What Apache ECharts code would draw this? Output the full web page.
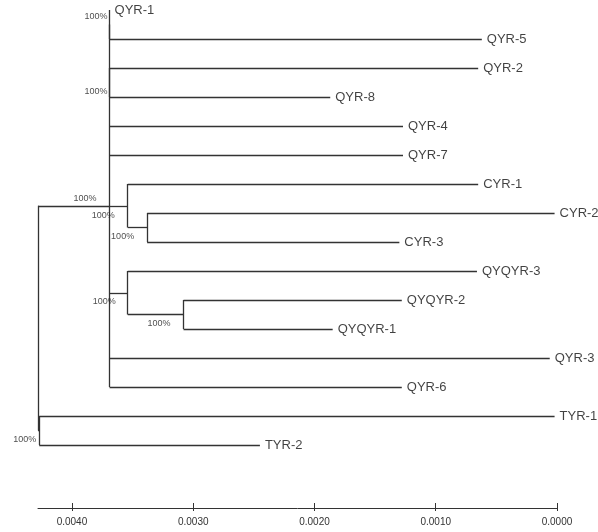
<!DOCTYPE html>
<html>
<head>
    <meta charset="utf-8">
    <title>Tree</title>
    <style>
        html, body { margin: 0; padding: 0; background: #fff; }
        #tree { width: 598px; height: 532px; }
    </style>
</head>
<body>
<div id="tree"></div>
<script src="https://cdn.jsdelivr.net/npm/echarts@6/dist/echarts.min.js"></script>
<script type="text/javascript">
    // leaves, top to bottom; height = distance read on the scale (0 at right)
    var leafNames = ['QYR-1', 'QYR-5', 'QYR-2', 'QYR-8', 'QYR-4', 'QYR-7', 'CYR-1', 'CYR-2', 'CYR-3',
        'QYQYR-3', 'QYQYR-2', 'QYQYR-1', 'QYR-3', 'QYR-6', 'TYR-1', 'TYR-2'];
    var leafHeights = [0.00369, 0.00062, 0.00065, 0.00187, 0.00127, 0.00127, 0.00065, 0.00002, 0.00130,
        0.00066, 0.00128, 0.00185, 0.00006, 0.00128, 0.00002, 0.00245];
    // internal nodes, numbered after the leaves (16, 17, ...)
    var nodeHeights = [0.00369, 0.00369, 0.00338, 0.00354, 0.00308, 0.00354, 0.00369, 0.00427, 0.00428];
    var nodeChildren = [[0, 1], [2, 3], [7, 8], [6, 18], [10, 11], [9, 20],
        [16, 17, 4, 5, 19, 21, 12, 13], [14, 15], [22, 23]];
    var nodeSupport = ['100%', '100%', '100%', '100%', '100%', '100%', '100%', '100%', ''];
    var scaleTicks = [0, 0.001, 0.002, 0.003, 0.004];
    var scaleMax = 0.00428;

    // label placement for the support values: [gap left of node, shift down]
    var supportOffset = [[2, -7.5], [2, 9.5], [13, 9.5], [13, 10], [13, 9.5], [12, 9], [13, -7], [3, 9.5], [0, 0]];

    var lineColor = '#333';
    var font = "'Liberation Sans', Arial, sans-serif";

    var nLeaf = leafNames.length;
    var height = leafHeights.slice();
    var rowY = [];
    for (var i = 0; i < nLeaf; i++) rowY.push(i);

    var segments = [];
    var supportPts = [];
    nodeChildren.forEach(function (kids, k) {
        var id = nLeaf + k;
        var h = nodeHeights[k];
        height[id] = h;
        var y0 = rowY[kids[0]], y1 = rowY[kids[kids.length - 1]];
        rowY[id] = (y0 + y1) / 2;
        segments.push({coords: [[h, y0], [h, y1]]});
        kids.forEach(function (c) {
            segments.push({coords: [[h, rowY[c]], [height[c], rowY[c]]]});
        });
        if (nodeSupport[k]) {
            supportPts.push({
                value: [h, rowY[id]],
                label: {
                    formatter: nodeSupport[k],
                    distance: supportOffset[k][0],
                    offset: [0, supportOffset[k][1]]
                }
            });
        }
    });

    var leafPts = leafNames.map(function (n, i) {
        return {value: [leafHeights[i], i], name: n};
    });

    var chart = echarts.init(document.getElementById('tree'));
    chart.setOption({
        animation: false,
        backgroundColor: '#fff',
        grid: [
            {left: 38, right: 41, top: 10, height: 435},
            {left: 38, right: 41, top: 507, height: 1}
        ],
        xAxis: [
            {gridIndex: 0, type: 'value', min: 0, max: scaleMax, inverse: true, show: false},
            {
                gridIndex: 1, type: 'value', min: 0, max: scaleMax, inverse: true, position: 'top',
                splitLine: {show: false},
                axisLine: {show: true, lineStyle: {color: '#333', width: 1}},
                axisTick: {show: true, length: 5, customValues: scaleTicks, lineStyle: {color: '#333'}},
                axisLabel: {show: false}
            },
            {
                gridIndex: 1, type: 'value', min: 0, max: scaleMax, inverse: true, position: 'bottom',
                splitLine: {show: false},
                axisLine: {show: false},
                axisTick: {show: true, length: 3, customValues: scaleTicks, lineStyle: {color: '#333'}},
                axisLabel: {
                    customValues: scaleTicks, margin: 9, fontSize: 10, color: '#333', fontFamily: font,
                    formatter: function (v) { return v.toFixed(4); }
                }
            }
        ],
        yAxis: [
            {gridIndex: 0, type: 'value', min: 0, max: nLeaf - 1, inverse: true, show: false},
            {gridIndex: 1, type: 'value', show: false}
        ],
        series: [
            {
                type: 'lines',
                coordinateSystem: 'cartesian2d',
                xAxisIndex: 0, yAxisIndex: 0,
                silent: true,
                clip: false,
                lineStyle: {color: lineColor, width: 1.3, opacity: 1},
                data: segments
            },
            {
                type: 'scatter',
                xAxisIndex: 0, yAxisIndex: 0,
                symbolSize: 0,
                silent: true,
                clip: false,
                label: {
                    show: true, position: 'right', distance: 5,
                    formatter: '{b}', fontSize: 13, color: '#111', fontFamily: font
                },
                data: leafPts
            },
            {
                type: 'scatter',
                xAxisIndex: 0, yAxisIndex: 0,
                symbolSize: 0,
                silent: true,
                clip: false,
                label: {
                    show: true, position: 'left',
                    fontSize: 9, color: '#222', fontFamily: font
                },
                data: supportPts
            }
        ]
    });
</script>
</body>
</html>
